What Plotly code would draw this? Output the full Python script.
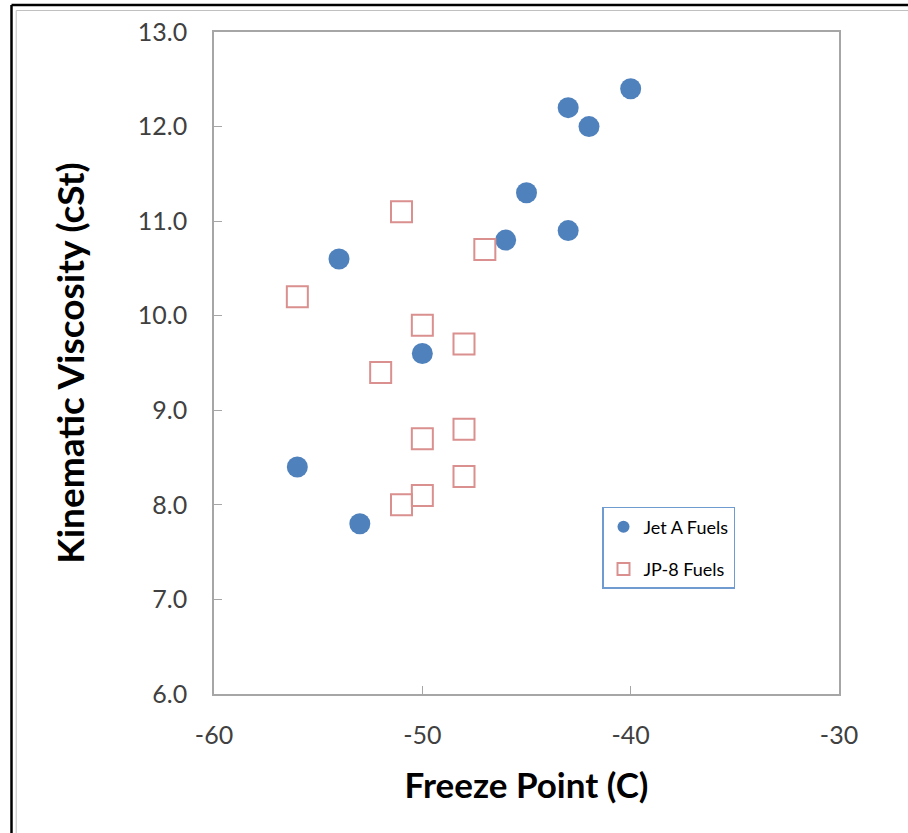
import plotly.graph_objects as go

# Jet A fuels: freeze point (C) vs kinematic viscosity (cSt)
jet_a_freeze = [-56, -53, -54, -50, -46, -45, -43, -43, -42, -40]
jet_a_visc = [8.4, 7.8, 10.6, 9.6, 10.8, 11.3, 10.9, 12.2, 12.0, 12.4]

# JP-8 fuels
jp8_freeze = [-56, -51, -47, -50, -48, -52, -50, -48, -48, -50, -51]
jp8_visc = [10.2, 11.1, 10.7, 9.9, 9.7, 9.4, 8.7, 8.8, 8.3, 8.1, 8.0]

x_ticks = [-60, -50, -40, -30]
y_ticks = [6.0, 7.0, 8.0, 9.0, 10.0, 11.0, 12.0, 13.0]

FONT = "Lato"
AXIS_GRAY = "#A6A6A6"

fig = go.Figure()
fig.add_trace(go.Scatter(
    x=jet_a_freeze, y=jet_a_visc, mode="markers", name="Jet A Fuels",
    legendgroup="a",
    marker=dict(symbol="circle", size=21, color="#4F81BD", line=dict(width=0)),
))
fig.add_trace(go.Scatter(
    x=jp8_freeze, y=jp8_visc, mode="markers", name="JP-8 Fuels",
    legendgroup="b",
    marker=dict(symbol="square-open", size=21, color="#D9908E",
                line=dict(width=2, color="#D9908E")),
))

axis_common = dict(
    showgrid=False, zeroline=False, showline=True, linecolor=AXIS_GRAY,
    linewidth=1.5, mirror=True, ticks="inside", ticklen=8, tickcolor=AXIS_GRAY,
    tickfont=dict(family=FONT, size=25, color="#404040"),
)

fig.update_xaxes(
    range=[-60, -30], tickvals=x_ticks, ticktext=[str(v) for v in x_ticks],
    ticklabelstandoff=18,
    title=dict(text="<b>Freeze Point (C)</b>", standoff=26,
               font=dict(family=FONT, size=35, color="black")),
    **axis_common,
)
fig.update_yaxes(
    range=[6.0, 13.0], tickvals=y_ticks, ticktext=[f"{v:.1f}" for v in y_ticks],
    ticklabelstandoff=20,
    title=dict(text="<b>Kinematic Viscosity (cSt)</b>", standoff=42,
               font=dict(family=FONT, size=37, color="black")),
    **axis_common,
)

# Frame lines around the chart area (double line on top and left)
frame = [
    dict(x0=-0.3240, x1=1.12, y0=1.0408, y1=1.0408, color="#000000", width=2.5),
    dict(x0=-0.3240, x1=-0.3240, y0=1.0408, y1=-0.22, color="#000000", width=2.5),
    dict(x0=-0.3165, x1=1.12, y0=1.0325, y1=1.0325, color="#C0C0C0", width=1),
    dict(x0=-0.3165, x1=-0.3165, y0=1.0325, y1=-0.22, color="#C0C0C0", width=1),
]
for f in frame:
    fig.add_shape(type="line", xref="paper", yref="paper",
                  x0=f["x0"], x1=f["x1"], y0=f["y0"], y1=f["y1"],
                  line=dict(color=f["color"], width=f["width"]))

fig.update_layout(
    width=908, height=833,
    margin=dict(l=214, r=69, t=32, b=139),
    paper_bgcolor="white", plot_bgcolor="white",
    font=dict(family=FONT),
    legend=dict(
        x=0.6208, y=0.2825, xanchor="left", yanchor="top",
        bgcolor="white", bordercolor="#6F9BD1", borderwidth=1.5,
        font=dict(family=FONT, size=18, color="black"),
        itemsizing="constant", traceorder="grouped", tracegroupgap=16,
        itemwidth=30,
    ),
)

fig.write_html("out.html")
